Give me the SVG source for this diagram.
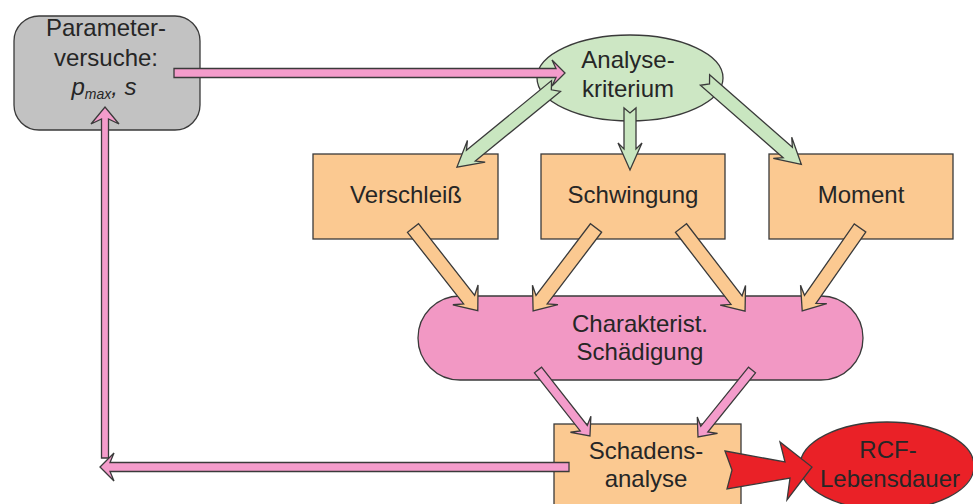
<svg xmlns="http://www.w3.org/2000/svg" width="973" height="504" viewBox="0 0 973 504">
<style>
text{font-family:"Liberation Sans",Arial,sans-serif;font-size:24px;fill:#262626;text-anchor:middle}
.ol{stroke:#3a3a3a;stroke-width:1.3;stroke-linejoin:miter}
.gray{fill:#c2c2c2}
.green{fill:#cde7c4}
.orange{fill:#fbc991}
.pinkn{fill:#f298c4}
.pinka{fill:#f49ccb}
.red{fill:#ea2127}
.garr{fill:#c9e6c0}
</style>
<rect width="973" height="504" fill="#ffffff"/>
<g id="parameterversuche">
<rect class="gray ol" x="14" y="16" width="186" height="114" rx="25" ry="25"/>
<text x="106" y="36">Parameter-</text>
<text x="106" y="66">versuche:</text>
<text x="104" y="95" font-style="italic">p<tspan font-size="14" dy="4">max</tspan><tspan dy="-4">, s</tspan></text>
</g>
<g id="analysekriterium">
<ellipse class="green ol" cx="630" cy="78" rx="93" ry="43"/>
<text x="628" y="68">Analyse-</text>
<text x="628" y="97">kriterium</text>
</g>
<g id="verschleiss">
<rect class="orange ol" x="313" y="154" width="185" height="85"/>
<text x="406" y="203">Verschleiß</text>
</g>
<g id="schwingung">
<rect class="orange ol" x="541" y="154" width="184" height="85"/>
<text x="633" y="203">Schwingung</text>
</g>
<g id="moment">
<rect class="orange ol" x="769" y="154" width="184" height="85"/>
<text x="861" y="203">Moment</text>
</g>
<g id="schaedigung">
<rect class="pinkn ol" x="418" y="296" width="445" height="84" rx="42" ry="42"/>
<text x="640" y="332">Charakterist.</text>
<text x="640" y="360">Schädigung</text>
</g>
<g id="schadensanalyse">
<rect class="orange ol" x="554" y="424" width="187" height="90"/>
<text x="646" y="459">Schadens-</text>
<text x="646" y="487">analyse</text>
</g>
<g id="lebensdauer">
<ellipse class="red ol" cx="887" cy="466" rx="87" ry="44"/>
<text x="888" y="458">RCF-</text>
<text x="890" y="487">Lebensdauer</text>
</g>
<g id="connectors">
<path class="pinka ol" d="M174,68.5 L556,68.5 L552,60 L565,73 L552,86 L556,77.5 L174,77.5 Z"/>
<path class="garr ol" transform="translate(556,86) rotate(140.7)" d="M0,-7 L110,-7 L103,-14 L128,0 L103,14 L110,7 L0,7 L6,0 Z"/>
<path class="garr ol" transform="translate(630,108) rotate(90)" d="M0,-6 L41,-6 L35,-12 L62,0 L35,12 L41,6 L0,6 L5,0 Z"/>
<path class="garr ol" transform="translate(705,80) rotate(41.2)" d="M0,-7 L110,-7 L103,-14 L128,0 L103,14 L110,7 L0,7 L6,0 Z"/>
<path class="orange ol" transform="translate(413,228) rotate(51.9)" d="M0,-7 L91,-7 L85,-16 L105,0 L85,16 L91,7 L0,7 Z"/>
<path class="orange ol" transform="translate(596,228) rotate(127.2)" d="M0,-7 L90,-7 L84,-16 L104,0 L84,16 L90,7 L0,7 Z"/>
<path class="orange ol" transform="translate(681,228) rotate(52.4)" d="M0,-7 L91,-7 L85,-16 L105,0 L85,16 L91,7 L0,7 Z"/>
<path class="orange ol" transform="translate(860,228) rotate(124.9)" d="M0,-7 L87,-7 L81,-16 L101,0 L81,16 L87,7 L0,7 Z"/>
<path class="pinka ol" transform="translate(538,370) rotate(51.8)" d="M0,-4.5 L74,-4.5 L69,-13 L84,0 L69,13 L74,4.5 L0,4.5 Z"/>
<path class="pinka ol" transform="translate(752,370) rotate(128.9)" d="M0,-4.5 L76,-4.5 L71,-13 L86,0 L71,13 L76,4.5 L0,4.5 Z"/>
<path class="pinka ol" d="M101.5,458 L101.5,119 L91,124 L105,107 L119,124 L108.5,119 L108.5,458 Z"/>
<path class="pinka ol" d="M569,462.5 L110,462.5 L114,453 L100,467 L114,481 L110,471.5 L569,471.5 Z"/>
<path class="red ol" d="M725,451 L785,462 L780,442 L812,467 L787,500 L790,478 L727,489 L732,470 Z"/>
</g>
</svg>
